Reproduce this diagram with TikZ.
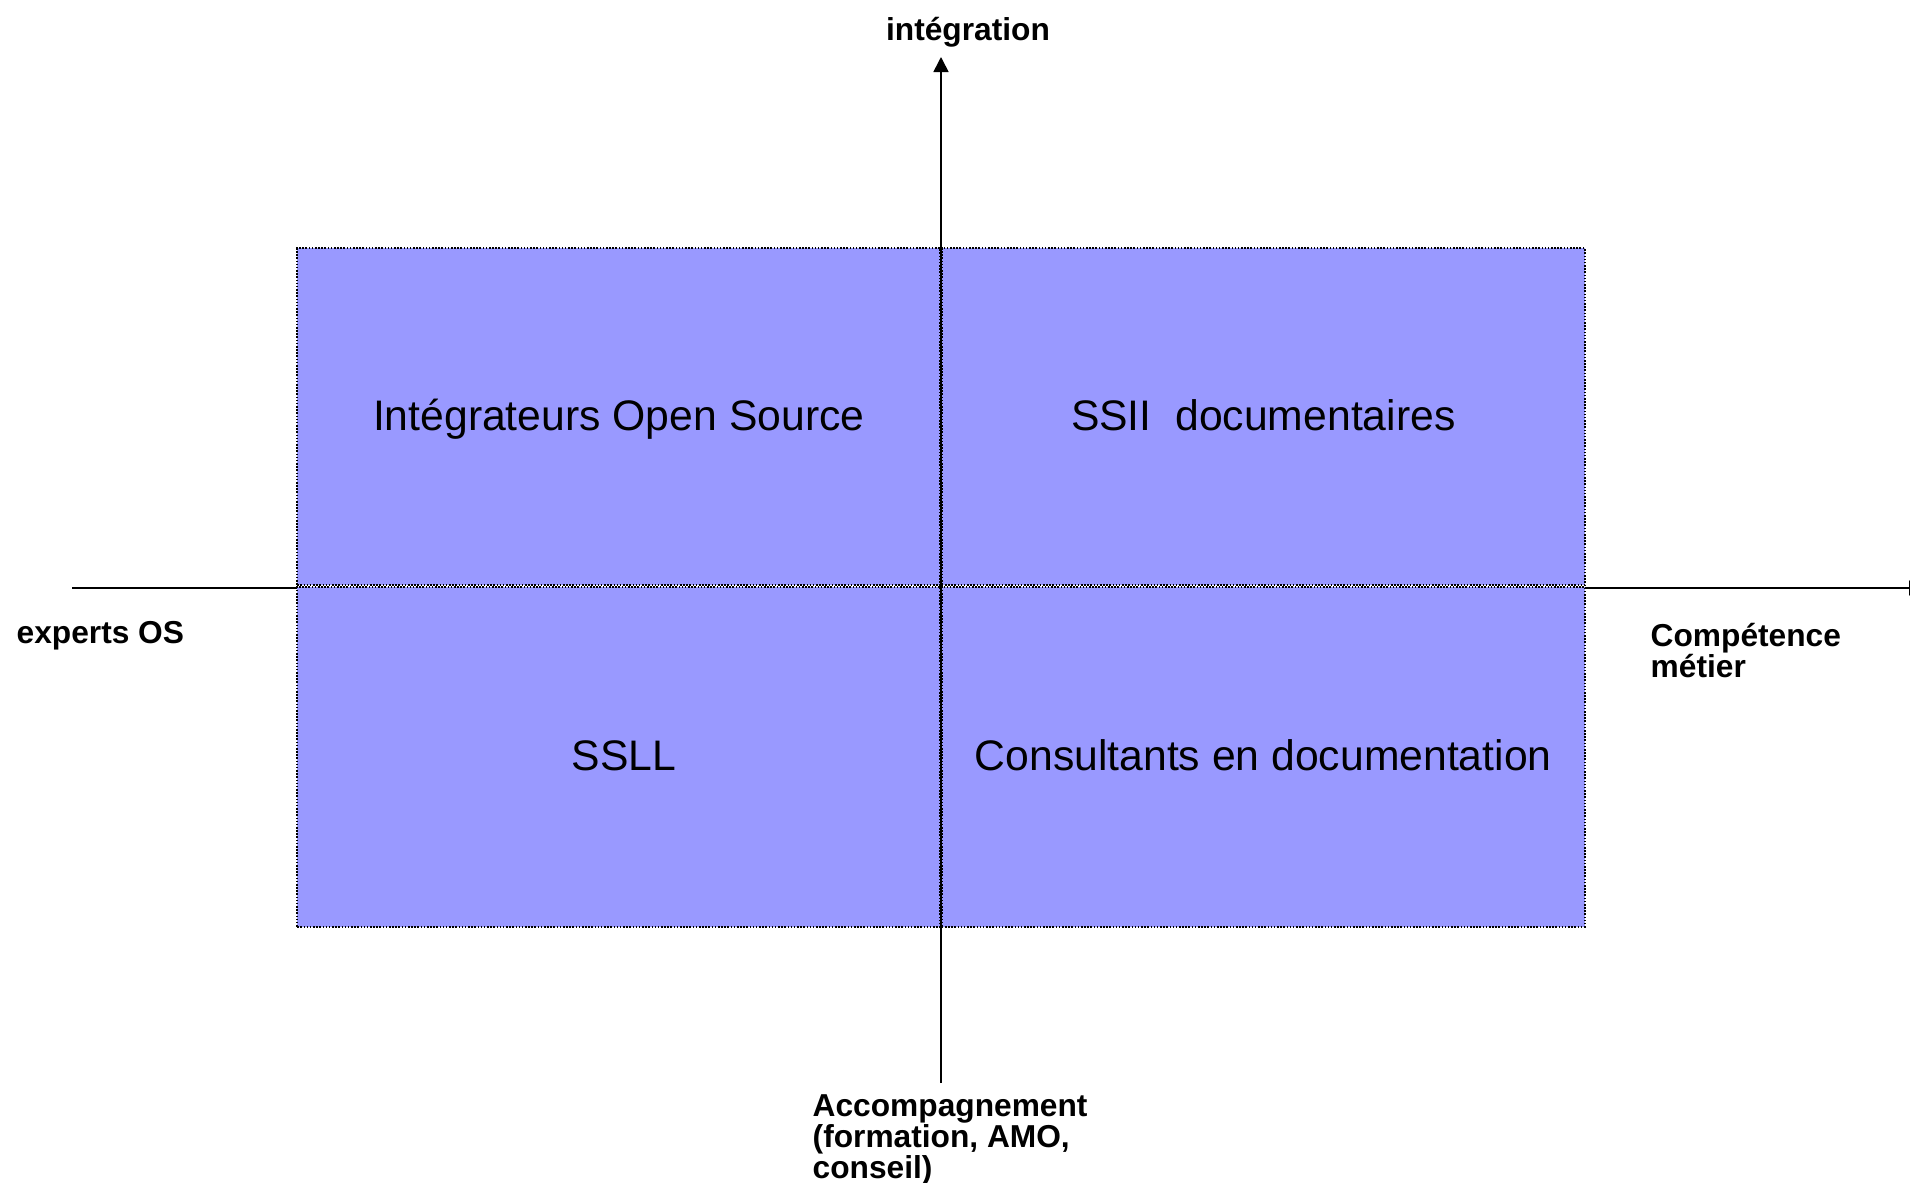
\documentclass[tikz,border=0pt]{standalone}
\usepackage{fontspec}
\setmainfont{Liberation Sans}
\usepackage{tikz}
\usetikzlibrary{positioning,arrows.meta}
\definecolor{quadblue}{HTML}{9999FF}

\begin{document}
\begin{tikzpicture}[
    quad/.style={draw, fill=quadblue, line width=0.43pt, dash pattern=on 0.45pt off 0.45pt,
      minimum width=6.43cm, minimum height=3.37cm, inner sep=0pt,
      text height=0.98em, text depth=0.2em,
      font=\fontsize{12.15}{14}\selectfont},
    axis/.style={line width=0.45pt, -{Triangle[length=1.5mm,width=1.5mm]}},
    axislabel/.style={inner sep=0pt, align=left, font=\fontsize{9.02}{8.8}\selectfont\bfseries},
    node distance=0pt
  ]
  \useasboundingbox (0,0) rectangle (19.10,11.82);

  % Axes
  \coordinate (xleft) at (0.72,5.94);
  \coordinate (xright) at (19.24,5.94);
  \coordinate (ybot) at (9.41,0.99);
  \coordinate (ytop) at (9.41,11.25);
  \draw[axis] (xleft) -- (xright);
  \draw[axis] (ybot) -- (ytop);

  % Quadrants
  \node[quad, anchor=south east] (integ) at (9.41,5.96) {Intégrateurs Open Source};
  \node[quad, right=of integ] (ssii) {SSII\ \ documentaires};
  \node[quad, below=of integ, minimum height=3.40cm] (ssll) {\hspace{0.1cm}SSLL};
  \node[quad, right=of ssll, minimum height=3.40cm] (consult) {Consultants en documentation};

  % Axis labels (base = last line)
  \node[axislabel, anchor=base] (integlbl) at (9.68,11.42) {intégration};
  \node[axislabel, anchor=base west] (expertlbl) at (0.16,5.39) {experts OS};
  \node[axislabel, anchor=base west] (metierlbl) at (16.50,5.05) {Compétence\\métier};
  \node[axislabel, anchor=base west] (accomplbl) at (8.12,0.04) {Accompagnement\\(formation, AMO,\\conseil)};
\end{tikzpicture}
\end{document}
